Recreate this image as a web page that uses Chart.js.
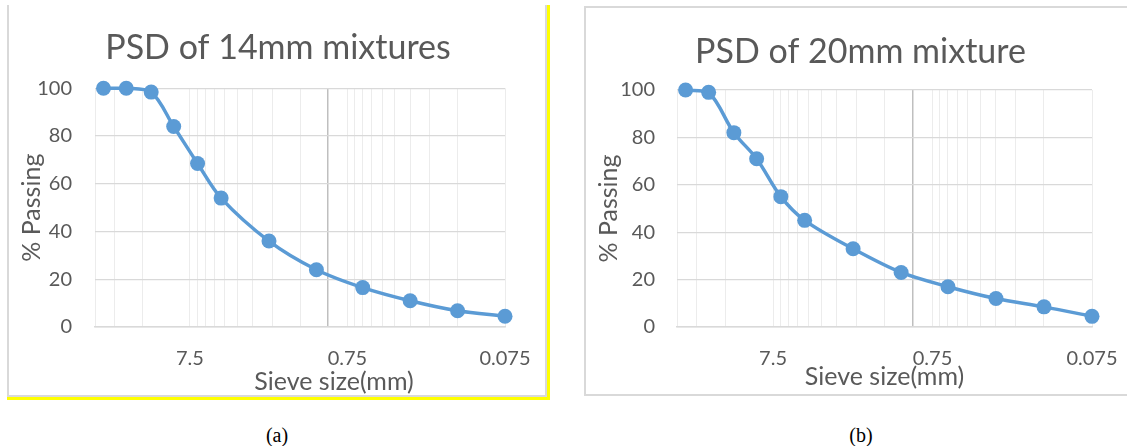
<!DOCTYPE html>
<html>
<head>
<meta charset="utf-8">
<script src="https://cdn.jsdelivr.net/npm/chart.js@4.4.0/dist/chart.umd.min.js"></script>
<style>
html,body{margin:0;padding:0;background:#fff;overflow:hidden;width:1127px;height:446px;}
.abs{position:absolute;box-sizing:content-box;}
#frameAOuter{left:7px;top:5px;width:540px;height:392px;border-right:3px solid #ffff00;border-bottom:3px solid #ffff00;}
#frameAInner{left:0;top:0;width:536px;height:390px;border-left:2px solid #d9d9d9;border-right:2px solid #d9d9d9;border-bottom:2px solid #d9d9d9;}
#frameB{left:584px;top:6px;width:600px;height:386px;border-left:2px solid #d9d9d9;border-top:2px solid #d9d9d9;border-bottom:2px solid #d9d9d9;}
#cA{left:10px;top:5px;}
#cB{left:586px;top:9px;}
.cap{font-family:"Liberation Serif","Times New Roman",serif;font-size:20px;color:#000;width:80px;text-align:center;line-height:22px;}
#capA{left:237px;top:424px;}
#capB{left:821px;top:424px;}
</style>
</head>
<body>
<div id="frameAOuter" class="abs"><div id="frameAInner" class="abs"></div></div>
<div id="frameB" class="abs"></div>
<canvas id="cA" class="abs" width="536" height="390"></canvas>
<canvas id="cB" class="abs" width="549" height="386"></canvas>
<div id="capA" class="abs cap">(a)</div>
<div id="capB" class="abs cap">(b)</div>
<script>
// ---- data ----
const sieveSizes = [26.5, 19, 13.2, 9.5, 6.7, 4.75, 2.36, 1.18, 0.6, 0.3, 0.15, 0.075];
const passing14 = [100, 100, 98.4, 84, 68.5, 54, 36, 24, 16.5, 11, 6.8, 4.5];
const passing20 = [100, 99, 82, 71, 55, 45, 33, 23, 17, 12, 8.5, 4.5];
const xTickValues = [7.5, 0.75, 0.075];
const xTickLabels = ['7.5', '0.75', '0.075'];
const yTickValues = [0, 20, 40, 60, 80, 100];
const titles = ['PSD of 14mm mixtures', 'PSD of 20mm mixture'];
const xAxisTitle = 'Sieve size(mm)';
const yAxisTitle = '% Passing';
const xMin = 0.075, xMax = 30, axisCross = 1;

// minor/major gridline values of the log axis (base 0.075 decades)
const gridValues = [];
[0.075, 0.75, 7.5].forEach(b => { for (let k = 1; k <= 9; k++) { const v = b * k; if (v <= xMax + 1e-9) gridValues.push(v); } });
gridValues.push(xMax);
gridValues.push(axisCross);

const TXT = '#595959';
const BLUE = '#5b9bd5';

const xTitlePlugin = {
  id: 'xTitle',
  afterDraw(chart, args, opts) {
    const {ctx, chartArea} = chart;
    ctx.save();
    ctx.font = '25px Lato';
    ctx.fillStyle = TXT;
    ctx.textAlign = 'center';
    ctx.textBaseline = 'middle';
    ctx.fillText(opts.text, (chartArea.left + chartArea.right) / 2 + opts.dx, chartArea.bottom + opts.dy);
    ctx.restore();
  }
};

function makeChart(id, values, title, cfg) {
  return new Chart(document.getElementById(id), {
    type: 'line',
    data: {
      datasets: [{
        data: sieveSizes.map((s, i) => ({x: s, y: values[i]})),
        borderColor: BLUE,
        backgroundColor: BLUE,
        borderWidth: 3.5,
        pointRadius: 7.5,
        pointBorderWidth: 0,
        pointBackgroundColor: BLUE,
        tension: 0.33,
        clip: false,
        fill: false
      }]
    },
    options: {
      responsive: false,
      animation: false,
      events: [],
      layout: {padding: 0},
      plugins: {
        legend: {display: false},
        tooltip: {enabled: false},
        title: {
          display: true, text: title, color: TXT,
          font: {family: 'Lato', size: 34, weight: 'normal'},
          padding: {top: 22.6, bottom: cfg.titleBottom}
        },
        xTitle: {text: xAxisTitle, dx: cfg.xdx, dy: cfg.xdy}
      },
      scales: {
        x: {
          type: 'logarithmic',
          reverse: true,
          min: xMin, max: xMax,
          afterBuildTicks: (scale) => { scale.ticks = gridValues.map(v => ({value: v})); },
          afterFit: (scale) => { scale.height = cfg.xh; scale.paddingRight = cfg.right; },
          ticks: {
            autoSkip: false, maxRotation: 0, minRotation: 0, padding: 20,
            color: TXT, font: {family: 'Lato', size: 20},
            callback: (v) => { const i = xTickValues.findIndex(t => Math.abs(t - v) < 1e-9); return i >= 0 ? xTickLabels[i] : ''; }
          },
          grid: {
            drawTicks: false,
            color: (c) => (c.tick && Math.abs(c.tick.value - axisCross) < 1e-9) ? '#bfbfbf' : '#ececec',
            lineWidth: (c) => (c.tick && Math.abs(c.tick.value - axisCross) < 1e-9) ? 1.5 : 1
          },
          border: {display: true, color: '#d9d9d9', width: 1.5}
        },
        y: {
          min: 0, max: 100,
          afterBuildTicks: (scale) => { scale.ticks = yTickValues.map(v => ({value: v})); },
          afterFit: (scale) => { scale.width = cfg.yw; },
          ticks: {padding: cfg.ypad, color: TXT, font: {family: 'Lato', size: 20}},
          grid: {drawTicks: false, color: '#d9d9d9', lineWidth: 1.2},
          border: {display: false},
          title: {display: true, text: yAxisTitle, color: TXT, font: {family: 'Lato', size: 25}, padding: {top: cfg.ytp, bottom: 0}}
        }
      }
    },
    plugins: [xTitlePlugin]
  });
}

function draw() {
  makeChart('cA', passing14, titles[0], {right: 41, titleBottom: 19.9, xh: 68, yw: 85, ypad: 23, ytp: 7, xdx: 34, xdy: 54.5});
  makeChart('cB', passing20, titles[1], {right: 43, titleBottom: 17.6, xh: 68, yw: 91, ypad: 22, ytp: 8, xdx: 0, xdy: 50});
}
if (document.fonts && document.fonts.load) {
  Promise.all([document.fonts.load('20px Lato'), document.fonts.load('19px "Liberation Serif"')]).then(draw, draw);
} else { draw(); }
</script>
</body>
</html>
